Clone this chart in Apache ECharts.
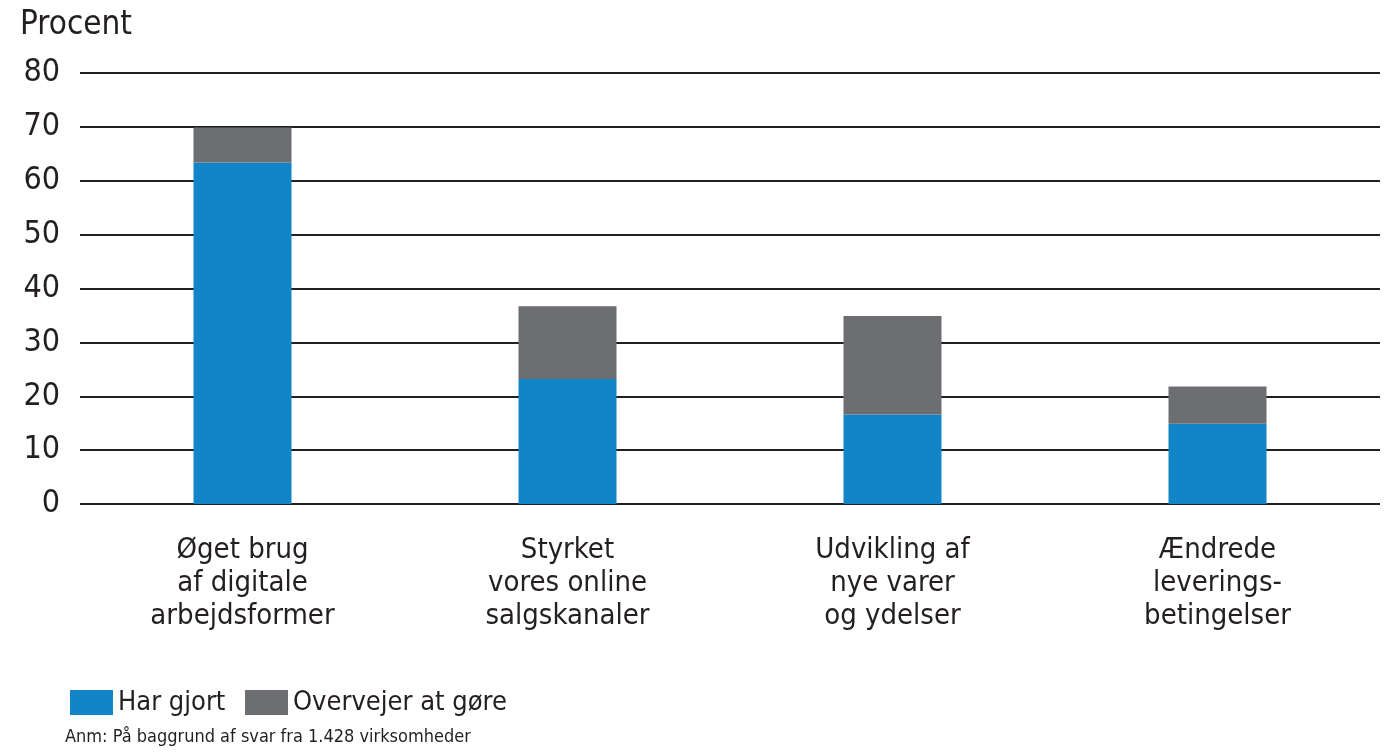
<!DOCTYPE html>
<html>
<head>
<meta charset="utf-8">
<script src="https://cdn.jsdelivr.net/npm/echarts@6/dist/echarts.min.js"></script>
<style>
  html, body { margin: 0; padding: 0; background: #fff; }
  #chart { width: 1389px; height: 753px; }
</style>
</head>
<body>
<div id="chart"></div>
<script>
var categories = ['Øget brug\naf digitale\narbejdsformer', 'Styrket\nvores online\nsalgskanaler', 'Udvikling af\nnye varer\nog ydelser', 'Ændrede\nleverings-\nbetingelser'];
var harGjort = [63.4, 23.2, 16.6, 14.9];
var overvejer = [6.5, 13.5, 18.3, 6.9];
var yTicks = [0, 10, 20, 30, 40, 50, 60, 70, 80];

var FONT = '"DejaVu Sans Condensed", "Open Sans", sans-serif';
var INK = '#231F20';

var chart = echarts.init(document.getElementById('chart'));
chart.setOption({
  animation: false,
  color: ['#1185C8', '#6D6E71'],
  grid: { left: 80, right: 9, top: 73, bottom: 249 },
  legend: [
    {
      left: 65, top: 684,
      itemWidth: 43, itemHeight: 25,
      icon: 'rect',
      textStyle: { fontFamily: FONT, fontSize: 27, color: INK },
      data: ['Har gjort']
    },
    {
      left: 240, top: 684,
      itemWidth: 43, itemHeight: 25,
      icon: 'rect',
      textStyle: { fontFamily: FONT, fontSize: 27, color: INK },
      data: ['Overvejer at gøre']
    }
  ],
  graphic: [
    { type: 'text', left: 20, top: 9, style: { text: 'Procent', fontFamily: FONT, fontSize: 33, fill: INK } },
    { type: 'text', left: 65, top: 728, style: { text: 'Anm: På baggrund af svar fra 1.428 virksomheder', fontFamily: FONT, fontSize: 18, fill: INK } }
  ],
  xAxis: {
    type: 'category',
    data: categories,
    axisLine: { show: false },
    axisTick: { show: false },
    axisLabel: { interval: 0, margin: 30, fontFamily: FONT, fontSize: 29, lineHeight: 33, color: INK, align: 'center' }
  },
  yAxis: {
    type: 'value',
    min: yTicks[0], max: yTicks[yTicks.length - 1], interval: 10,
    axisLine: { show: false },
    axisTick: { show: false },
    splitLine: { lineStyle: { color: INK, width: 2 } },
    axisLabel: { margin: 20, fontFamily: FONT, fontSize: 32, color: INK }
  },
  series: [
    { name: 'Har gjort', type: 'bar', stack: 'a', barWidth: 98, data: harGjort },
    { name: 'Overvejer at gøre', type: 'bar', stack: 'a', barWidth: 98, data: overvejer }
  ]
});
</script>
</body>
</html>
